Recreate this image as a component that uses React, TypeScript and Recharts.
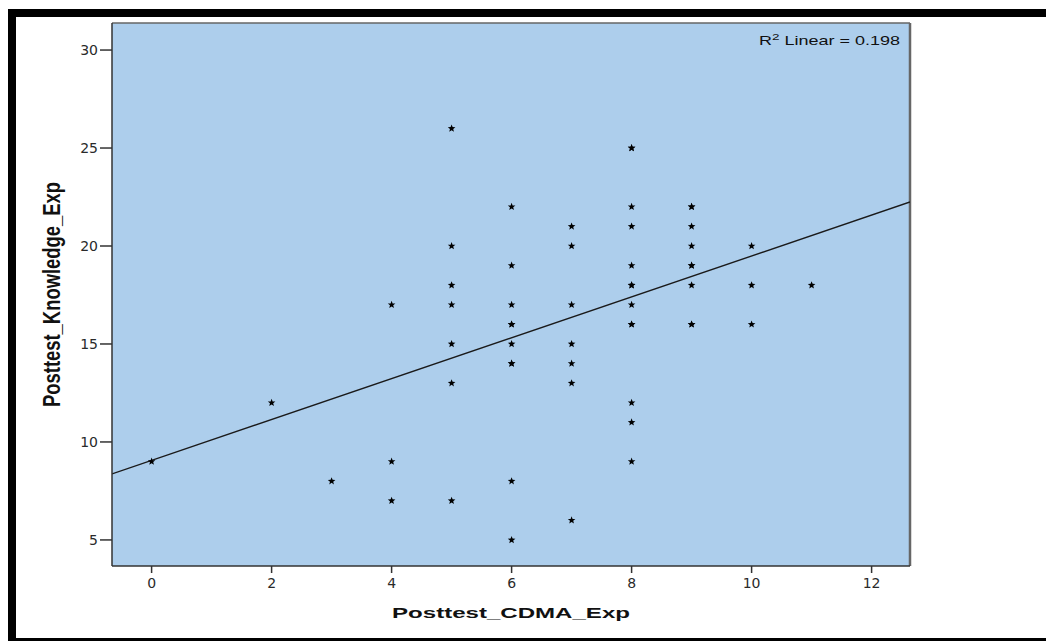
import * as React from "react";
import {
  ScatterChart,
  Scatter,
  XAxis,
  YAxis,
  CartesianGrid,
  ReferenceLine,
  Customized,
} from "recharts";

// Posttest_CDMA_Exp values (one column of stars each)
const cdmaScores = [0, 2, 3, 4, 5, 6, 7, 8, 9, 10, 11];

// Posttest_Knowledge_Exp values for each CDMA score (repeats = overplotted cases)
const knowledgeByCdma = [
  [9],
  [12],
  [8],
  [17, 9, 7],
  [26, 20, 18, 17, 15, 13, 7],
  [22, 19, 17, 16, 16, 15, 14, 14, 8, 5],
  [21, 20, 17, 15, 14, 13, 6],
  [25, 25, 22, 21, 19, 18, 18, 17, 16, 16, 12, 11, 9],
  [22, 22, 21, 20, 19, 19, 18, 16, 16],
  [20, 18, 16],
  [18],
];

// linear fit, R² = 0.198
const FIT_INTERCEPT = 9.06;
const FIT_SLOPE = 1.043;
const R2_LABEL = "0.198";

const xTicks = [0, 2, 4, 6, 8, 10, 12];
const yTicks = [5, 10, 15, 20, 25, 30];
const X_DOMAIN: [number, number] = [-0.66, 12.64];
const Y_DOMAIN: [number, number] = [3.67, 31.38];

const points = cdmaScores.flatMap((x, i) =>
  knowledgeByCdma[i].map((y) => ({ x, y }))
);

const fit = (x: number) => FIT_INTERCEPT + FIT_SLOPE * x;

const BG = "#ADCEEC";
const INK = "#333";

/** Small five-point star marker, as in the SPSS output. */
function Star(props: any) {
  const { cx, cy } = props;
  if (cx == null || cy == null) return null;
  const pts: string[] = [];
  for (let k = 0; k < 10; k++) {
    const r = k % 2 === 0 ? 4 : 1.7;
    const a = -Math.PI / 2 + (k * Math.PI) / 5;
    pts.push(`${cx + r * Math.cos(a)},${cy + r * Math.sin(a)}`);
  }
  return <polygon points={pts.join(" ")} fill="#000" />;
}

const tickStyle = {
  fontFamily: "DejaVu Sans, sans-serif",
  fontSize: 14,
  fill: "#2a2a2a",
};

function Labels() {
  return (
    <g>
      <g transform="translate(900,45) scale(1.5,1)">
        <text
          textAnchor="end"
          fontFamily="Liberation Sans, Arial, sans-serif"
          fontSize={12}
          fill="#111"
        >
          R<tspan dy={-5} fontSize={9}>2</tspan>
          <tspan dy={5}>{` Linear = ${R2_LABEL}`}</tspan>
        </text>
      </g>
      <text
        x={511}
        y={618}
        textAnchor="middle"
        fontFamily="Liberation Sans, Arial, sans-serif"
        fontWeight="bold"
        fontSize={15.5}
        fill="#111"
        textLength={238}
        lengthAdjust="spacingAndGlyphs"
      >
        Posttest_CDMA_Exp
      </text>
      <g transform="translate(60,294.5) scale(1.37,1) rotate(-90)">
        <text
          x={0}
          y={0}
          textAnchor="middle"
          fontFamily="Liberation Sans, Arial, sans-serif"
          fontWeight="bold"
          fontSize={18}
          fill="#111"
          textLength={225}
          lengthAdjust="spacingAndGlyphs"
        >
          Posttest_Knowledge_Exp
        </text>
      </g>
    </g>
  );
}

export default function App() {
  return (
    <div
      style={{
        position: "fixed",
        left: 0,
        top: 0,
        width: 1046,
        height: 641,
        overflow: "hidden",
        background: "#fff",
      }}
    >
      <div
        style={{
          position: "absolute",
          left: 8,
          top: 9,
          width: 1100,
          height: 637,
          boxSizing: "border-box",
          border: "8px solid #000",
        }}
      />
      <div style={{ position: "absolute", left: 0, top: 0 }}>
        <ScatterChart
          width={1046}
          height={641}
          margin={{ top: 23, right: 136, bottom: 35, left: 52 }}
        >
          <CartesianGrid
            fill={BG}
            fillOpacity={1}
            horizontal={false}
            vertical={false}
          />
          <XAxis
            type="number"
            dataKey="x"
            domain={X_DOMAIN}
            ticks={xTicks}
            allowDataOverflow
            height={40}
            tickSize={7}
            tickMargin={5}
            tick={tickStyle}
            axisLine={{ stroke: INK, strokeWidth: 1.5 }}
            tickLine={{ stroke: INK, strokeWidth: 1.5 }}
          />
          <YAxis
            type="number"
            dataKey="y"
            domain={Y_DOMAIN}
            ticks={yTicks}
            allowDataOverflow
            width={60}
            tickSize={12}
            tickMargin={2}
            tick={tickStyle}
            axisLine={{ stroke: INK, strokeWidth: 1.5 }}
            tickLine={{ stroke: INK, strokeWidth: 1.5 }}
          />
          <ReferenceLine y={Y_DOMAIN[1]} stroke="#666" strokeWidth={1.5} />
          <ReferenceLine x={X_DOMAIN[1]} stroke="#666" strokeWidth={2.5} />
          <ReferenceLine
            segment={[
              { x: X_DOMAIN[0], y: fit(X_DOMAIN[0]) },
              { x: X_DOMAIN[1], y: fit(X_DOMAIN[1]) },
            ]}
            stroke="#1a1a1a"
            strokeWidth={1.4}
            ifOverflow="hidden"
          />
          <Scatter data={points} shape={<Star />} isAnimationActive={false} />
          <Customized component={Labels} />
        </ScatterChart>
      </div>
    </div>
  );
}
